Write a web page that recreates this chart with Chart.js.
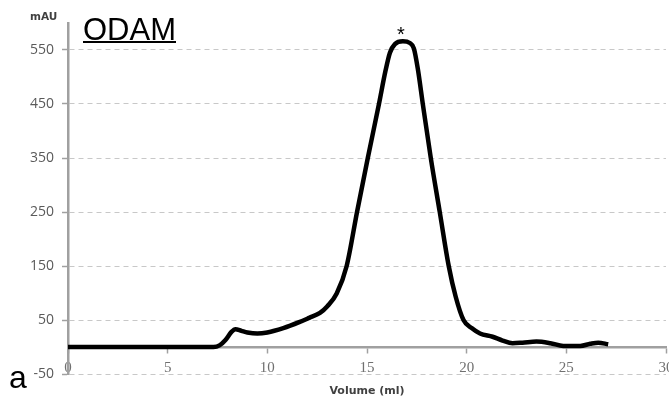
<!DOCTYPE html>
<html>
<head>
<meta charset="utf-8">
<script src="https://cdn.jsdelivr.net/npm/chart.js@4/dist/chart.umd.min.js"></script>
<style>
  html, body { margin: 0; padding: 0; background: #fff; }
  #wrap { width: 669px; height: 402px; position: relative; }
</style>
</head>
<body>
<div id="wrap"><canvas id="chart"></canvas></div>
<script>
// --- Daten ---
const volumen = [
  0, 7.3, 7.6, 7.9, 8.2, 8.4, 8.7, 9.0, 9.5, 10.0, 10.8, 11.6, 12.1, 12.64,
  13.0, 13.48, 13.98, 14.5, 15.04, 15.6, 15.92, 16.15, 16.4, 16.8, 17.15,
  17.35, 17.55, 17.8, 18.2, 18.65, 19.1, 19.45, 19.84, 20.25, 20.67, 21.3,
  21.8, 22.3, 22.8, 23.5, 24.2, 24.85, 25.7, 26.2, 26.6, 27.1
];
const absorption = [
  0, 0, 3, 13, 28, 33, 30, 27, 25, 27, 35, 46, 54, 63,
  75, 99, 150, 250, 350, 450, 510, 545, 561, 566, 563,
  553, 515, 450, 350, 250, 150, 93, 50, 35, 25, 19,
  12, 7, 8, 10, 7, 2, 2, 6, 8, 5
];
const yTicks = [-50, 50, 150, 250, 350, 450, 550];
const xTickStep = 5;

const punkte = volumen.map((v, i) => ({ x: v, y: absorption[i] }));

// Freie Beschriftungen: Titel, Panel-Buchstabe, Stern, Einheit
const beschriftungen = {
  id: 'beschriftungen',
  afterDraw(chart) {
    const ctx = chart.ctx;
    ctx.save();
    ctx.fillStyle = '#000';
    ctx.textAlign = 'left';
    ctx.textBaseline = 'alphabetic';

    ctx.font = '31px "Liberation Sans"';
    ctx.fillText('ODAM', 83, 40);
    const breite = ctx.measureText('ODAM').width;
    ctx.fillRect(83, 41, breite, 2);

    ctx.font = '32px "Liberation Sans"';
    ctx.fillText('a', 9, 388);

    ctx.font = '20px "Liberation Sans"';
    ctx.textAlign = 'center';
    ctx.fillText('*', 401, 41);

    ctx.font = 'bold 10.5px "DejaVu Sans"';
    ctx.fillStyle = '#404040';
    ctx.textAlign = 'left';
    ctx.textBaseline = 'middle';
    ctx.fillText('mAU', 30, 17);
    ctx.restore();
  }
};

new Chart(document.getElementById('chart'), {
  type: 'scatter',
  data: {
    datasets: [{
      data: punkte,
      showLine: true,
      borderColor: '#000',
      borderWidth: 4.5,
      pointRadius: 0,
      cubicInterpolationMode: 'monotone',
    }],
  },
  options: {
    responsive: true,
    maintainAspectRatio: false,
    animation: false,
    layout: { padding: { top: 23, bottom: 28, right: 3, left: 0 } },
    plugins: { legend: { display: false }, tooltip: { enabled: false } },
    scales: {
      x: {
        type: 'linear',
        position: { y: 0 },
        min: 0,
        max: 30,
        ticks: {
          stepSize: xTickStep,
          padding: 7,
          maxRotation: 0,
          color: '#707070',
          font: { family: 'Liberation Serif', size: 15 },
        },
        grid: {
          display: true,
          drawOnChartArea: false,
          drawTicks: true,
          tickLength: 5,
          tickColor: '#a0a0a0',
          tickWidth: 1.5,
        },
        border: { display: true, color: '#a0a0a0', width: 2.5 },
        title: {
          display: true,
          text: 'Volume (ml)',
          color: '#404040',
          padding: { top: 1, bottom: 0 },
          font: { family: 'DejaVu Sans', size: 11, weight: 'bold' },
        },
        afterFit(scale) {
          scale.paddingLeft = 0;
          scale.paddingRight = 0;
        },
      },
      y: {
        type: 'linear',
        min: -50,
        max: 600,
        afterBuildTicks(scale) {
          scale.ticks = yTicks.map(v => ({ value: v }));
        },
        afterFit(scale) {
          scale.width = 68;
        },
        ticks: {
          padding: 8,
          color: '#5a5a5a',
          font: { family: 'Open Sans', size: 14 },
        },
        grid: {
          color: '#c8c8c8',
          lineWidth: 1,
          tickLength: 6,
          tickColor: '#a0a0a0',
          tickWidth: 1.5,
        },
        border: { display: true, color: '#a0a0a0', width: 2.5, dash: [5, 4] },
      },
    },
  },
  plugins: [beschriftungen],
});
</script>
</body>
</html>
